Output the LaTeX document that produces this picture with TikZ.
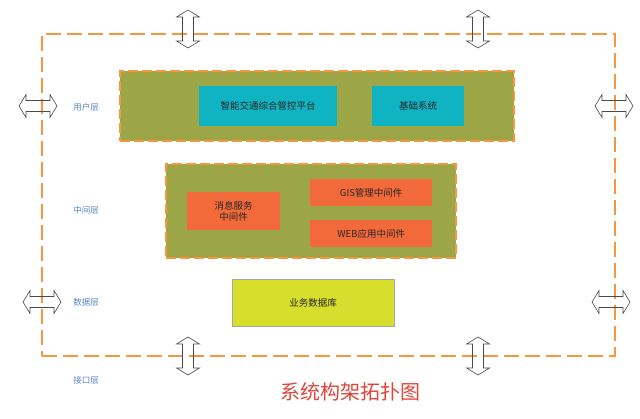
\documentclass[tikz,border=0pt]{standalone}
\usepackage{fontspec}
\setmainfont{Noto Sans CJK SC}
\definecolor{olive}{HTML}{9DA646}
\definecolor{cyanbox}{HTML}{0FB3C2}
\definecolor{redbox}{HTML}{F26A3A}
\definecolor{dbbox}{HTML}{D8DE2C}
\definecolor{dashor}{HTML}{F7963F}
\definecolor{lblue}{HTML}{5A86C4}
\definecolor{titlered}{HTML}{E0453C}
\definecolor{arrowgray}{HTML}{4A4A4A}
\tikzset{
  layerbox/.style={draw=dashor, fill=olive, line width=2pt, dash pattern=on 10pt off 4pt, anchor=north west, inner sep=0pt},
  cyanbox/.style={fill=cyanbox, anchor=north west, inner sep=0pt, font=\fontsize{9.5}{11.5}\selectfont, text=black!85},
  redbox/.style={fill=redbox, anchor=north west, inner sep=0pt, font=\fontsize{9.5}{11.5}\selectfont, text=black!85, align=center},
  dbbox/.style={fill=dbbox, draw=gray!70, anchor=north west, inner sep=0pt, font=\fontsize{9.5}{11.5}\selectfont, text=black!85},
  lyrlabel/.style={text=lblue, font=\fontsize{8.5}{10}\selectfont, inner sep=0pt},
  dblarrow/.style={draw=arrowgray, line width=0.6pt, line join=miter},
  vdarrow/.pic={\path[dblarrow] (0,-19) -- (11.5,-12) -- (5.5,-12) -- (5.5,12) -- (11.5,12) -- (0,19) -- (-11.5,12) -- (-5.5,12) -- (-5.5,-12) -- (-11.5,-12) -- cycle;},
  hdarrow/.pic={\path[dblarrow] (-19,0) -- (-12,-11.5) -- (-12,-5.5) -- (12,-5.5) -- (12,-11.5) -- (19,0) -- (12,11.5) -- (12,5.5) -- (-12,5.5) -- (-12,11.5) -- cycle;}
}
\begin{document}
\begin{tikzpicture}[x=1pt,y=-1pt]
\useasboundingbox[fill=white] (0,0) rectangle (640,419);
% outer dashed frame
\node[draw=dashor, line width=2pt, dash pattern=on 15pt off 6pt, anchor=north west, inner sep=0pt, minimum width=573pt, minimum height=322pt] (frame) at (41,33) {};
% user layer
\node[layerbox, minimum width=394pt, minimum height=70pt] (user) at (119,70) {};
\node[cyanbox, minimum width=138pt, minimum height=40pt] (platform) at (199,86) {智能交通综合管控平台};
\node[cyanbox, minimum width=92pt, minimum height=40pt] (base) at (372,86) {基础系统};
% middle layer
\node[layerbox, minimum width=290pt, minimum height=94pt] (mid) at (165,163) {};
\node[redbox, minimum width=93pt, minimum height=38pt] (msg) at (187,192) {消息服务\\中间件};
\node[redbox, minimum width=122pt, minimum height=27pt] (gis) at (310,179) {GIS管理中间件};
\node[redbox, minimum width=122pt, minimum height=27pt] (web) at (310,220) {WEB应用中间件};
% data layer
\node[dbbox, minimum width=162pt, minimum height=47pt] (db) at (232,279) {业务数据库};
% labels
\node[lyrlabel] (l1) at (86,107) {用户层};
\node[lyrlabel] (l2) at (86,210) {中间层};
\node[lyrlabel] (l3) at (86,302) {数据层};
\node[lyrlabel] (l4) at (86,380) {接口层};
% title
\node[text=titlered, font=\fontsize{20}{23}\selectfont, inner sep=0pt] (title) at (350,392) {系统构架拓扑图};
% arrows
\pic (at1) at (188,29) {vdarrow};
\pic (at2) at (478,29) {vdarrow};
\pic (ab1) at (188,356) {vdarrow};
\pic (ab2) at (478,356) {vdarrow};
\pic (al1) at (38,106) {hdarrow};
\pic (al2) at (42,302) {hdarrow};
\pic (ar1) at (614,106) {hdarrow};
\pic (ar2) at (611,302) {hdarrow};
\end{tikzpicture}
\end{document}
